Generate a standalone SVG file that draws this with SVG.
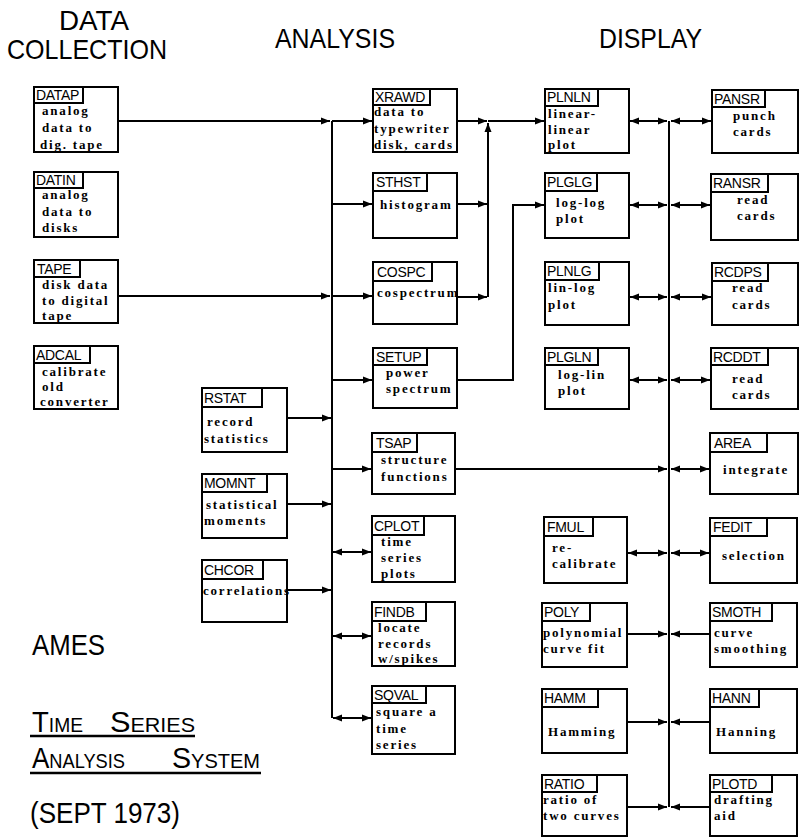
<svg xmlns="http://www.w3.org/2000/svg" width="801" height="839" viewBox="0 0 801 839">
<style>
.box{fill:#fff;stroke:#000;stroke-width:2}
.tab{fill:#fff;stroke:#000;stroke-width:2}
.lbl{font-family:"Liberation Sans",Arial,sans-serif;font-size:14px;letter-spacing:-0.3px;fill:#000}
.body{font-family:"Liberation Serif","Times New Roman",serif;font-weight:bold;font-size:13px;letter-spacing:1.8px;fill:#000}
.hdr{font-family:"Liberation Sans",Arial,sans-serif;font-size:28px;fill:#000}
.ttl{font-family:"Liberation Sans",Arial,sans-serif;fill:#000}
.c{fill:none;stroke:#000;stroke-width:2}
.a{marker-end:url(#ah)}
.aa{marker-start:url(#ah);marker-end:url(#ah)}
</style>
<defs>
<marker id="ah" markerUnits="userSpaceOnUse" markerWidth="9" markerHeight="8" refX="9" refY="4" orient="auto-start-reverse"><path d="M0,0.5 L9,4 L0,7.5 z" fill="#000"/></marker>
</defs>
<rect width="801" height="839" fill="#fff"/>

<g id="headers">
<text class="hdr" x="59" y="30" font-size="26" textLength="70" lengthAdjust="spacingAndGlyphs">DATA</text>
<text class="hdr" x="7" y="59" font-size="26" textLength="160" lengthAdjust="spacingAndGlyphs">COLLECTION</text>
<text class="hdr" x="275" y="48" textLength="120" lengthAdjust="spacingAndGlyphs">ANALYSIS</text>
<text class="hdr" x="599" y="48" textLength="103" lengthAdjust="spacingAndGlyphs">DISPLAY</text>
</g>

<g id="title">
<text class="ttl" x="32" y="655" font-size="30" textLength="73" lengthAdjust="spacingAndGlyphs">AMES</text>
<text class="ttl" x="32" y="732" textLength="51" lengthAdjust="spacingAndGlyphs"><tspan font-size="30">T</tspan><tspan font-size="21">IME</tspan></text>
<text class="ttl" x="110" y="732" textLength="85" lengthAdjust="spacingAndGlyphs"><tspan font-size="30">S</tspan><tspan font-size="21">ERIES</tspan></text>
<line x1="30" y1="736" x2="195" y2="736" stroke="#000" stroke-width="2.5"/>
<text class="ttl" x="32" y="768" textLength="93" lengthAdjust="spacingAndGlyphs"><tspan font-size="30">A</tspan><tspan font-size="21">NALYSIS</tspan></text>
<text class="ttl" x="172" y="768" textLength="88" lengthAdjust="spacingAndGlyphs"><tspan font-size="30">S</tspan><tspan font-size="21">YSTEM</tspan></text>
<line x1="30" y1="773" x2="261" y2="773" stroke="#000" stroke-width="2.5"/>
<text class="ttl" x="30" y="823" font-size="30" textLength="150" lengthAdjust="spacingAndGlyphs">(SEPT 1973)</text>
</g>

<g id="connectors">
<path class="c a" d="M118,121 H330"/>
<path class="c a" d="M332,121 H372"/>
<path class="c a" d="M118,296 H330"/>
<path class="c a" d="M332,296 H372"/>
<path class="c" d="M332,121 V718"/>
<path class="c a" d="M332,204 H372"/>
<path class="c a" d="M332,380 H372"/>
<path class="c a" d="M332,469 H371"/>
<path class="c aa" d="M333,552 H371"/>
<path class="c aa" d="M333,636 H371"/>
<path class="c aa" d="M333,718 H371"/>
<path class="c a" d="M287,418 H331"/>
<path class="c a" d="M287,504 H331"/>
<path class="c a" d="M287,590 H331"/>

<path class="c a" d="M457,121 H487"/>
<path class="c a" d="M457,204 H487"/>
<path class="c a" d="M457,297 H487"/>
<path class="c a" d="M488,297 V123"/>
<path class="c a" d="M488,121 H544"/>
<path class="c a" d="M457,380 H513 V205 H544"/>
<path class="c a" d="M455,469 H667"/>

<path class="c" d="M669,121 V807"/>
<path class="c aa" d="M630,121 H667"/>
<path class="c aa" d="M671,121 H711"/>
<path class="c aa" d="M630,205 H667"/>
<path class="c aa" d="M671,205 H710"/>
<path class="c aa" d="M630,297 H667"/>
<path class="c aa" d="M671,297 H711"/>
<path class="c aa" d="M630,380 H667"/>
<path class="c aa" d="M671,380 H710"/>
<path class="c aa" d="M671,469 H709"/>
<path class="c aa" d="M628,553 H667"/>
<path class="c aa" d="M671,553 H709"/>
<path class="c a" d="M627,634 H667"/>
<path class="c a" d="M710,634 H671"/>
<path class="c a" d="M627,722 H667"/>
<path class="c a" d="M710,722 H671"/>
<path class="c a" d="M627,807 H667"/>
<path class="c a" d="M710,807 H671"/>
</g>

<g id="DATAP"><rect class="box" x="34" y="87" width="84" height="65"/><rect class="tab" x="34" y="87" width="49" height="16"/><text class="lbl" x="36" y="100">DATAP</text>
<text class="body"><tspan x="42" y="115">analog</tspan><tspan x="42" y="132">data to</tspan><tspan x="40" y="149">dig. tape</tspan></text></g>

<g id="DATIN"><rect class="box" x="34" y="172" width="84" height="65"/><rect class="tab" x="34" y="172" width="49" height="16"/><text class="lbl" x="36" y="185">DATIN</text>
<text class="body"><tspan x="42" y="199">analog</tspan><tspan x="42" y="216">data to</tspan><tspan x="42" y="232">disks</tspan></text></g>

<g id="TAPE"><rect class="box" x="34" y="260" width="84" height="63"/><rect class="tab" x="34" y="260" width="46" height="17"/><text class="lbl" x="37" y="274">TAPE</text>
<text class="body"><tspan x="42" y="289">disk data</tspan><tspan x="42" y="305">to digital</tspan><tspan x="42" y="320">tape</tspan></text></g>

<g id="ADCAL"><rect class="box" x="34" y="346" width="84" height="63"/><rect class="tab" x="34" y="346" width="56" height="17"/><text class="lbl" x="36" y="360">ADCAL</text>
<text class="body"><tspan x="42" y="376">calibrate</tspan><tspan x="42" y="391">old</tspan><tspan x="40" y="406">converter</tspan></text></g>

<g id="RSTAT"><rect class="box" x="202" y="388" width="85" height="64"/><rect class="tab" x="202" y="388" width="60" height="19"/><text class="lbl" x="204" y="403">RSTAT</text>
<text class="body"><tspan x="207" y="426">record</tspan><tspan x="204" y="443">statistics</tspan></text></g>

<g id="MOMNT"><rect class="box" x="202" y="474" width="85" height="64"/><rect class="tab" x="202" y="474" width="65" height="18"/><text class="lbl" x="204" y="488">MOMNT</text>
<text class="body"><tspan x="206" y="509">statistical</tspan><tspan x="204" y="525">moments</tspan></text></g>

<g id="CHCOR"><rect class="box" x="202" y="560" width="85" height="62"/><rect class="tab" x="202" y="560" width="61" height="19"/><text class="lbl" x="204" y="575">CHCOR</text>
<text class="body"><tspan x="203" y="595">correlations</tspan></text></g>

<g id="XRAWD"><rect class="box" x="373" y="89" width="84" height="63"/><rect class="tab" x="373" y="89" width="57" height="16"/><text class="lbl" x="375" y="102">XRAWD</text>
<text class="body"><tspan x="374" y="116">data to</tspan><tspan x="374" y="133">typewriter</tspan><tspan x="374" y="149">disk, cards</tspan></text></g>

<g id="STHST"><rect class="box" x="373" y="173" width="84" height="65"/><rect class="tab" x="373" y="173" width="54" height="18"/><text class="lbl" x="376" y="187">STHST</text>
<text class="body"><tspan x="380" y="209">histogram</tspan></text></g>

<g id="COSPC"><rect class="box" x="373" y="262" width="84" height="62"/><rect class="tab" x="373" y="262" width="59" height="19"/><text class="lbl" x="377" y="277">COSPC</text>
<text class="body"><tspan x="377" y="297">cospectrum</tspan></text></g>

<g id="SETUP"><rect class="box" x="373" y="348" width="84" height="60"/><rect class="tab" x="373" y="348" width="54" height="17"/><text class="lbl" x="376" y="362">SETUP</text>
<text class="body"><tspan x="386" y="377">power</tspan><tspan x="386" y="393">spectrum</tspan></text></g>

<g id="TSAP"><rect class="box" x="372" y="433" width="83" height="61"/><rect class="tab" x="372" y="433" width="45" height="19"/><text class="lbl" x="376" y="448">TSAP</text>
<text class="body"><tspan x="381" y="464">structure</tspan><tspan x="381" y="481">functions</tspan></text></g>

<g id="CPLOT"><rect class="box" x="372" y="516" width="83" height="66"/><rect class="tab" x="372" y="516" width="52" height="19"/><text class="lbl" x="374" y="531">CPLOT</text>
<text class="body"><tspan x="381" y="546">time</tspan><tspan x="381" y="562">series</tspan><tspan x="381" y="578">plots</tspan></text></g>

<g id="FINDB"><rect class="box" x="372" y="602" width="83" height="64"/><rect class="tab" x="372" y="602" width="54" height="19"/><text class="lbl" x="374" y="617">FINDB</text>
<text class="body"><tspan x="378" y="632">locate</tspan><tspan x="378" y="648">records</tspan><tspan x="378" y="663">w/spikes</tspan></text></g>

<g id="SQVAL"><rect class="box" x="372" y="686" width="83" height="68"/><rect class="tab" x="372" y="686" width="54" height="17"/><text class="lbl" x="374" y="700">SQVAL</text>
<text class="body"><tspan x="376" y="716">square a</tspan><tspan x="376" y="733">time</tspan><tspan x="376" y="749">series</tspan></text></g>

<g id="PLNLN"><rect class="box" x="545" y="89" width="84" height="64"/><rect class="tab" x="545" y="89" width="53" height="17"/><text class="lbl" x="547" y="102">PLNLN</text>
<text class="body"><tspan x="548" y="118">linear-</tspan><tspan x="548" y="134">linear</tspan><tspan x="548" y="149">plot</tspan></text></g>

<g id="PLGLG"><rect class="box" x="545" y="173" width="84" height="65"/><rect class="tab" x="545" y="173" width="52" height="18"/><text class="lbl" x="547" y="187">PLGLG</text>
<text class="body"><tspan x="556" y="207">log-log</tspan><tspan x="556" y="223">plot</tspan></text></g>

<g id="PLNLG"><rect class="box" x="545" y="262" width="84" height="63"/><rect class="tab" x="545" y="262" width="54" height="18"/><text class="lbl" x="547" y="276">PLNLG</text>
<text class="body"><tspan x="548" y="292">lin-log</tspan><tspan x="548" y="309">plot</tspan></text></g>

<g id="PLGLN"><rect class="box" x="545" y="348" width="84" height="61"/><rect class="tab" x="545" y="348" width="53" height="17"/><text class="lbl" x="547" y="362">PLGLN</text>
<text class="body"><tspan x="558" y="379">log-lin</tspan><tspan x="558" y="395">plot</tspan></text></g>

<g id="FMUL"><rect class="box" x="544" y="517" width="83" height="66"/><rect class="tab" x="544" y="517" width="49" height="19"/><text class="lbl" x="547" y="532">FMUL</text>
<text class="body"><tspan x="552" y="552">re-</tspan><tspan x="552" y="568">calibrate</tspan></text></g>

<g id="POLY"><rect class="box" x="542" y="603" width="85" height="64"/><rect class="tab" x="542" y="603" width="48" height="18"/><text class="lbl" x="544" y="617">POLY</text>
<text class="body"><tspan x="543" y="637">polynomial</tspan><tspan x="543" y="653">curve fit</tspan></text></g>

<g id="HAMM"><rect class="box" x="542" y="689" width="85" height="64"/><rect class="tab" x="542" y="689" width="56" height="18"/><text class="lbl" x="544" y="703">HAMM</text>
<text class="body"><tspan x="548" y="736">Hamming</tspan></text></g>

<g id="RATIO"><rect class="box" x="542" y="775" width="85" height="61"/><rect class="tab" x="542" y="775" width="55" height="17"/><text class="lbl" x="544" y="789">RATIO</text>
<text class="body"><tspan x="543" y="804">ratio of</tspan><tspan x="543" y="820">two curves</tspan></text></g>

<g id="PANSR"><rect class="box" x="712" y="90" width="86" height="63"/><rect class="tab" x="712" y="90" width="53" height="17"/><text class="lbl" x="714" y="104">PANSR</text>
<text class="body"><tspan x="733" y="120">punch</tspan><tspan x="733" y="136">cards</tspan></text></g>

<g id="RANSR"><rect class="box" x="711" y="174" width="87" height="66"/><rect class="tab" x="711" y="174" width="57" height="18"/><text class="lbl" x="713" y="188">RANSR</text>
<text class="body"><tspan x="737" y="204">read</tspan><tspan x="737" y="220">cards</tspan></text></g>

<g id="RCDPS"><rect class="box" x="712" y="263" width="86" height="62"/><rect class="tab" x="712" y="263" width="56" height="18"/><text class="lbl" x="714" y="277">RCDPS</text>
<text class="body"><tspan x="732" y="292">read</tspan><tspan x="732" y="309">cards</tspan></text></g>

<g id="RCDDT"><rect class="box" x="711" y="348" width="87" height="61"/><rect class="tab" x="711" y="348" width="57" height="17"/><text class="lbl" x="713" y="362">RCDDT</text>
<text class="body"><tspan x="732" y="383">read</tspan><tspan x="732" y="399">cards</tspan></text></g>

<g id="AREA"><rect class="box" x="710" y="433" width="88" height="61"/><rect class="tab" x="710" y="433" width="57" height="19"/><text class="lbl" x="714" y="448">AREA</text>
<text class="body"><tspan x="723" y="474">integrate</tspan></text></g>

<g id="FEDIT"><rect class="box" x="710" y="518" width="87" height="65"/><rect class="tab" x="710" y="518" width="57" height="18"/><text class="lbl" x="713" y="532">FEDIT</text>
<text class="body"><tspan x="722" y="560">selection</tspan></text></g>

<g id="SMOTH"><rect class="box" x="710" y="603" width="87" height="64"/><rect class="tab" x="710" y="603" width="62" height="18"/><text class="lbl" x="712" y="617">SMOTH</text>
<text class="body"><tspan x="714" y="637">curve</tspan><tspan x="714" y="653">smoothing</tspan></text></g>

<g id="HANN"><rect class="box" x="710" y="689" width="87" height="64"/><rect class="tab" x="710" y="689" width="49" height="18"/><text class="lbl" x="712" y="703">HANN</text>
<text class="body"><tspan x="716" y="736">Hanning</tspan></text></g>

<g id="PLOTD"><rect class="box" x="710" y="775" width="87" height="61"/><rect class="tab" x="710" y="775" width="62" height="17"/><text class="lbl" x="712" y="789">PLOTD</text>
<text class="body"><tspan x="714" y="804">drafting</tspan><tspan x="714" y="820">aid</tspan></text></g>
</svg>
